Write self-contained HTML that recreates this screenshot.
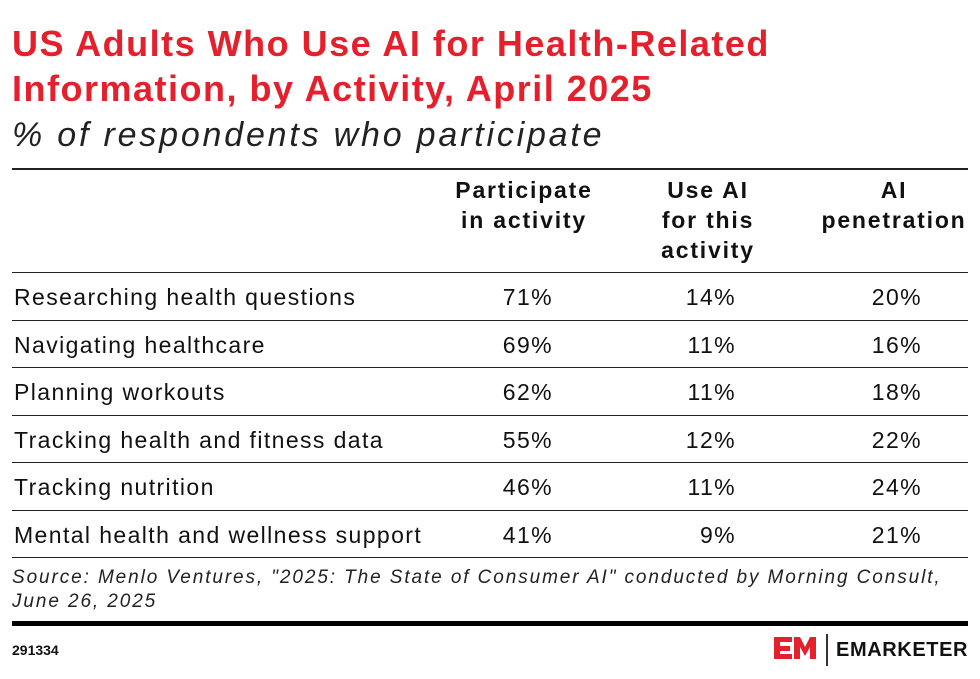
<!DOCTYPE html>
<html><head><style>
body{margin:0;width:980px;height:679px;background:#fff;font-family:"Liberation Sans",sans-serif;color:#111;position:relative;overflow:hidden}
.a{position:absolute;white-space:nowrap}
.t{left:12px;color:#e3202b;font-weight:bold;font-size:36px;letter-spacing:1.5px}
.hl{position:absolute;left:12px;width:956px;height:1px;background:#222}
.h{font-weight:bold;font-size:23px;text-align:center;line-height:30px;letter-spacing:1.8px}
.r{font-size:23px;left:14px;letter-spacing:1.4px}
.v{font-size:23px;text-align:right;width:90px;letter-spacing:1.4px;margin-right:-2px}
</style></head><body>
<div class="a t" style="top:23px">US Adults Who Use AI for Health-Related</div>
<div class="a t" style="top:68px">Information, by Activity, April 2025</div>
<div class="a" style="top:116px;left:12px;font-size:34px;font-style:italic;color:#222;letter-spacing:2.8px">% of respondents who participate</div>
<div class="hl" style="top:168px;height:2px"></div>
<div class="a h" style="left:434px;width:180px;top:175px">Participate<br>in activity</div>
<div class="a h" style="left:618px;width:180px;top:175px">Use AI<br>for this<br>activity</div>
<div class="a h" style="left:804px;width:180px;top:175px">AI<br>penetration</div>
<div class="hl" style="top:272px"></div>
<div class="a r" style="top:284px">Researching health questions</div>
<div class="a v" style="left:463px;top:284px">71%</div><div class="a v" style="left:646px;top:284px">14%</div><div class="a v" style="left:832px;top:284px">20%</div>
<div class="hl" style="top:320px"></div>
<div class="a r" style="top:332px">Navigating healthcare</div>
<div class="a v" style="left:463px;top:332px">69%</div><div class="a v" style="left:646px;top:332px">11%</div><div class="a v" style="left:832px;top:332px">16%</div>
<div class="hl" style="top:367px"></div>
<div class="a r" style="top:379px">Planning workouts</div>
<div class="a v" style="left:463px;top:379px">62%</div><div class="a v" style="left:646px;top:379px">11%</div><div class="a v" style="left:832px;top:379px">18%</div>
<div class="hl" style="top:415px"></div>
<div class="a r" style="top:427px">Tracking health and fitness data</div>
<div class="a v" style="left:463px;top:427px">55%</div><div class="a v" style="left:646px;top:427px">12%</div><div class="a v" style="left:832px;top:427px">22%</div>
<div class="hl" style="top:462px"></div>
<div class="a r" style="top:474px">Tracking nutrition</div>
<div class="a v" style="left:463px;top:474px">46%</div><div class="a v" style="left:646px;top:474px">11%</div><div class="a v" style="left:832px;top:474px">24%</div>
<div class="hl" style="top:510px"></div>
<div class="a r" style="top:522px">Mental health and wellness support</div>
<div class="a v" style="left:463px;top:522px">41%</div><div class="a v" style="left:646px;top:522px">9%</div><div class="a v" style="left:832px;top:522px">21%</div>
<div class="hl" style="top:557px"></div>
<div class="a" style="left:12px;top:566px;font-size:19px;font-style:italic;color:#222;line-height:24px;letter-spacing:1.9px">Source: Menlo Ventures, "2025: The State of Consumer AI" conducted by Morning Consult,<br>June 26, 2025</div>
<div class="hl" style="top:621px;height:5px;background:#000"></div>
<div class="a" style="left:12px;top:642px;font-size:14px;font-weight:bold">291334</div>
<svg class="a" style="left:772px;top:633px" width="50" height="34"><path d="M2 4h18v5H8v4h10v5H8v3h12v5H2z" fill="#e3202b"/><path d="M22 26V4h6l5 10 5-10h6v22h-6V14l-5 9-5-9v12z" fill="#e3202b"/></svg>
<div class="a" style="left:826px;top:634px;width:2px;height:32px;background:#333"></div>
<div class="a" style="left:836px;top:639px;font-size:20px;font-weight:bold;letter-spacing:0.6px">EMARKETER</div>
</body></html>
